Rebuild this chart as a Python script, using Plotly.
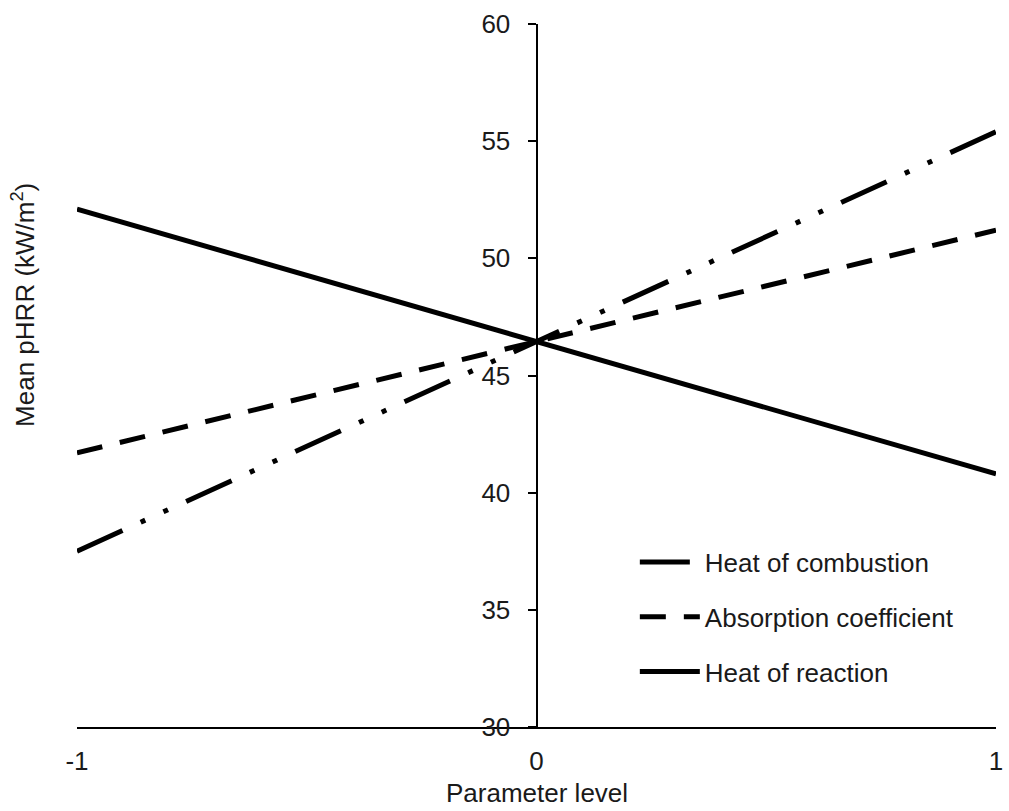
import plotly.graph_objects as go

# Parameter levels and mean peak heat release rate for each parameter
levels = [-1, 0, 1]
heat_of_combustion = [37.5, 46.45, 55.4]
absorption_coefficient = [41.7, 46.45, 51.2]
heat_of_reaction = [52.1, 46.45, 40.8]

y_ticks = [30, 35, 40, 45, 50, 55, 60]
x_ticks = [-1, 0, 1]

FONT = "Liberation Sans, Arial, sans-serif"
SIZE = 26

fig = go.Figure()
fig.add_trace(go.Scatter(
    x=levels, y=heat_of_combustion, mode="lines", name="Heat of combustion",
    legendgroup="a",
    line=dict(color="black", width=5, dash="50px,20px,5px,20px,5px,20px"),
))
fig.add_trace(go.Scatter(
    x=levels, y=absorption_coefficient, mode="lines", name="Absorption coefficient",
    legendgroup="b",
    line=dict(color="black", width=5, dash="26px,18px"),
))
fig.add_trace(go.Scatter(
    x=levels, y=heat_of_reaction, mode="lines", name="Heat of reaction",
    legendgroup="c",
    line=dict(color="black", width=5),
))

fig.update_layout(
    width=1009, height=811,
    margin=dict(l=77, r=13, t=24, b=84),
    paper_bgcolor="white", plot_bgcolor="white",
    font=dict(family=FONT, size=SIZE, color="#1a1a1a"),
    showlegend=True,
    legend=dict(
        x=0.607, y=0.268, xanchor="left", yanchor="top",
        bgcolor="rgba(0,0,0,0)", font=dict(size=SIZE),
        tracegroupgap=18, itemwidth=60,
    ),
    xaxis=dict(
        range=[-1, 1], tickvals=x_ticks, ticktext=[str(v) for v in x_ticks],
        showgrid=False, zeroline=False, showline=True, linecolor="black",
        linewidth=2, ticks="", ticklabelstandoff=10, automargin=False,
    ),
    yaxis=dict(
        range=[30, 60], tickvals=y_ticks, showgrid=False, zeroline=False,
        showline=True, linecolor="black", linewidth=2,
        ticks="outside", ticklen=8, tickwidth=2, tickcolor="black",
        anchor="free", position=0.5, ticklabelstandoff=12, automargin=False,
    ),
    annotations=[
        dict(text="Parameter level", xref="paper", yref="paper",
             x=0.5, y=-0.094, yanchor="middle", showarrow=False,
             font=dict(size=SIZE)),
        dict(text="Mean pHRR (kW/m<sup>2</sup>)", xref="paper", yref="paper",
             x=-0.058, y=0.60, xanchor="center", textangle=-90, showarrow=False,
             font=dict(size=SIZE)),
    ],
)

fig.write_html("out.html")
